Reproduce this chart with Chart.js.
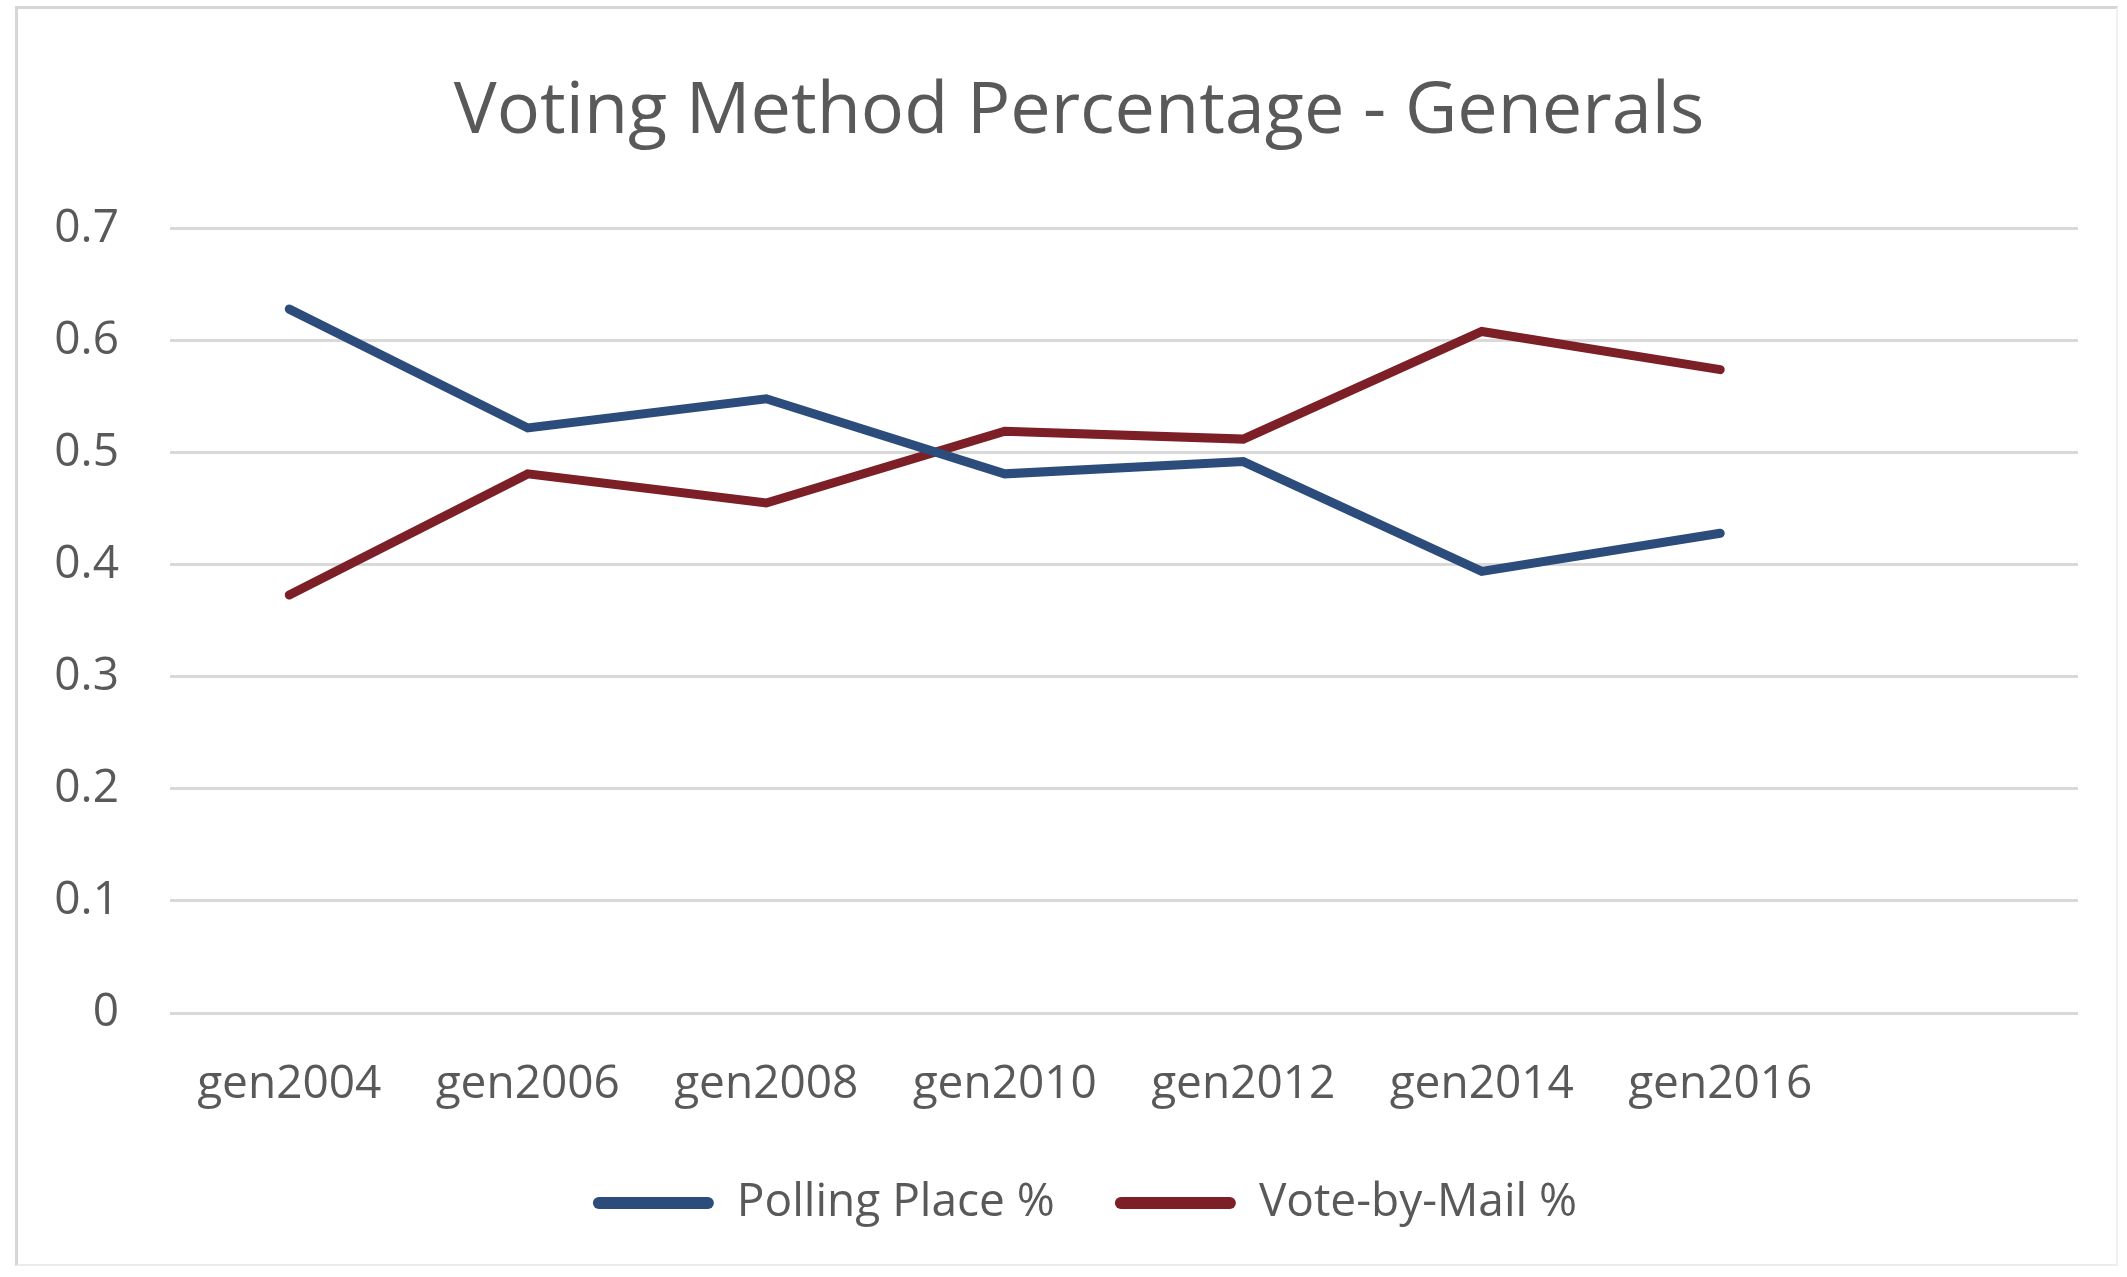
<!DOCTYPE html>
<html lang="en">
  <head>
    <meta charset="utf-8" />
    <title>Voting Method Percentage - Generals</title>
    <style>
      * {
        margin: 0;
        padding: 0;
      }
      body {
        width: 2127px;
        height: 1277px;
        background: #ffffff;
        position: relative;
        overflow: hidden;
      }
      .frame {
        position: absolute;
        left: 15px;
        top: 6px;
        width: 2098px;
        height: 1255px;
        border-top: 3px solid #d6d6d6;
        border-left: 3px solid #d6d6d6;
        border-right: 2px solid #f0f0f0;
        border-bottom: 2px solid #ececec;
      }
      .chartBox {
        position: absolute;
        left: 0;
        top: 0;
        width: 2127px;
        height: 1277px;
      }
    </style>
  </head>
  <body>
    <div class="frame"></div>
    <div class="chartBox">
      <canvas id="myChart" width="2127" height="1277"></canvas>
    </div>
    <script src="https://cdn.jsdelivr.net/npm/chart.js"></script>
    <script>
      // data
      const categories = ['gen2004', 'gen2006', 'gen2008', 'gen2010', 'gen2012', 'gen2014', 'gen2016', ''];
      const pollingPlace = [0.628, 0.522, 0.548, 0.481, 0.492, 0.394, 0.428];
      const voteByMail = [0.373, 0.481, 0.455, 0.519, 0.512, 0.608, 0.574];
      const yTicks = [0, 0.1, 0.2, 0.3, 0.4, 0.5, 0.6, 0.7];

      const FONT = "'Open Sans', sans-serif";
      const textColor = '#595959';
      const blue = '#2c4c7c';
      const red = '#7c1f26';

      Chart.defaults.font.family = FONT;
      Chart.defaults.color = textColor;

      const data = {
        labels: categories,
        datasets: [
          {
            label: 'Polling Place %',
            data: pollingPlace,
            borderColor: blue,
            backgroundColor: blue,
          },
          {
            label: 'Vote-by-Mail %',
            data: voteByMail,
            borderColor: red,
            backgroundColor: red,
          },
        ],
      };

      // title and legend sit a bit right of centre in the original
      const shiftBlocks = {
        id: 'shiftBlocks',
        afterLayout(chart) {
          chart.legend.left += 46;
          chart.legend.right += 46;
          chart.titleBlock.left += 40;
          chart.titleBlock.right += 40;
        },
      };

      const config = {
        type: 'line',
        data,
        options: {
          responsive: false,
          animation: false,
          devicePixelRatio: 1,
          layout: {
            padding: { left: 0, right: 49, top: 20, bottom: 41 },
          },
          elements: {
            line: { borderWidth: 9, tension: 0, borderCapStyle: 'round', borderJoinStyle: 'miter' },
            point: { radius: 0, hoverRadius: 0 },
          },
          plugins: {
            title: {
              display: true,
              text: 'Voting Method Percentage - Generals',
              color: textColor,
              font: { size: 72, weight: 'normal' },
              padding: { top: 49, bottom: 73 },
            },
            legend: {
              position: 'bottom',
              labels: {
                boxWidth: 121,
                boxHeight: 12,
                useBorderRadius: true,
                borderRadius: 6,
                padding: 60,
                color: textColor,
                font: { size: 46 },
                generateLabels(chart) {
                  const items = Chart.defaults.plugins.legend.labels.generateLabels(chart);
                  items.forEach((it) => (it.lineWidth = 0));
                  return items;
                },
              },
            },
            tooltip: { enabled: false },
          },
          scales: {
            x: {
              offset: true,
              afterFit(scale) {
                scale.height = 107;
              },
              grid: { display: false, drawTicks: false },
              border: { display: false },
              ticks: { padding: 44, font: { size: 46 }, color: textColor, maxRotation: 0, autoSkip: false },
            },
            y: {
              min: 0,
              max: 0.7,
              afterFit(scale) {
                scale.width = 170;
              },
              afterBuildTicks(scale) {
                scale.ticks = yTicks.map((v) => ({ value: v }));
              },
              grid: { color: '#d9d9d9', lineWidth: 3, drawTicks: false },
              border: { display: false },
              ticks: { padding: 51, font: { size: 46 }, color: textColor },
            },
          },
        },
        plugins: [shiftBlocks],
      };

      const myChart = new Chart(document.getElementById('myChart'), config);
    </script>
  </body>
</html>
